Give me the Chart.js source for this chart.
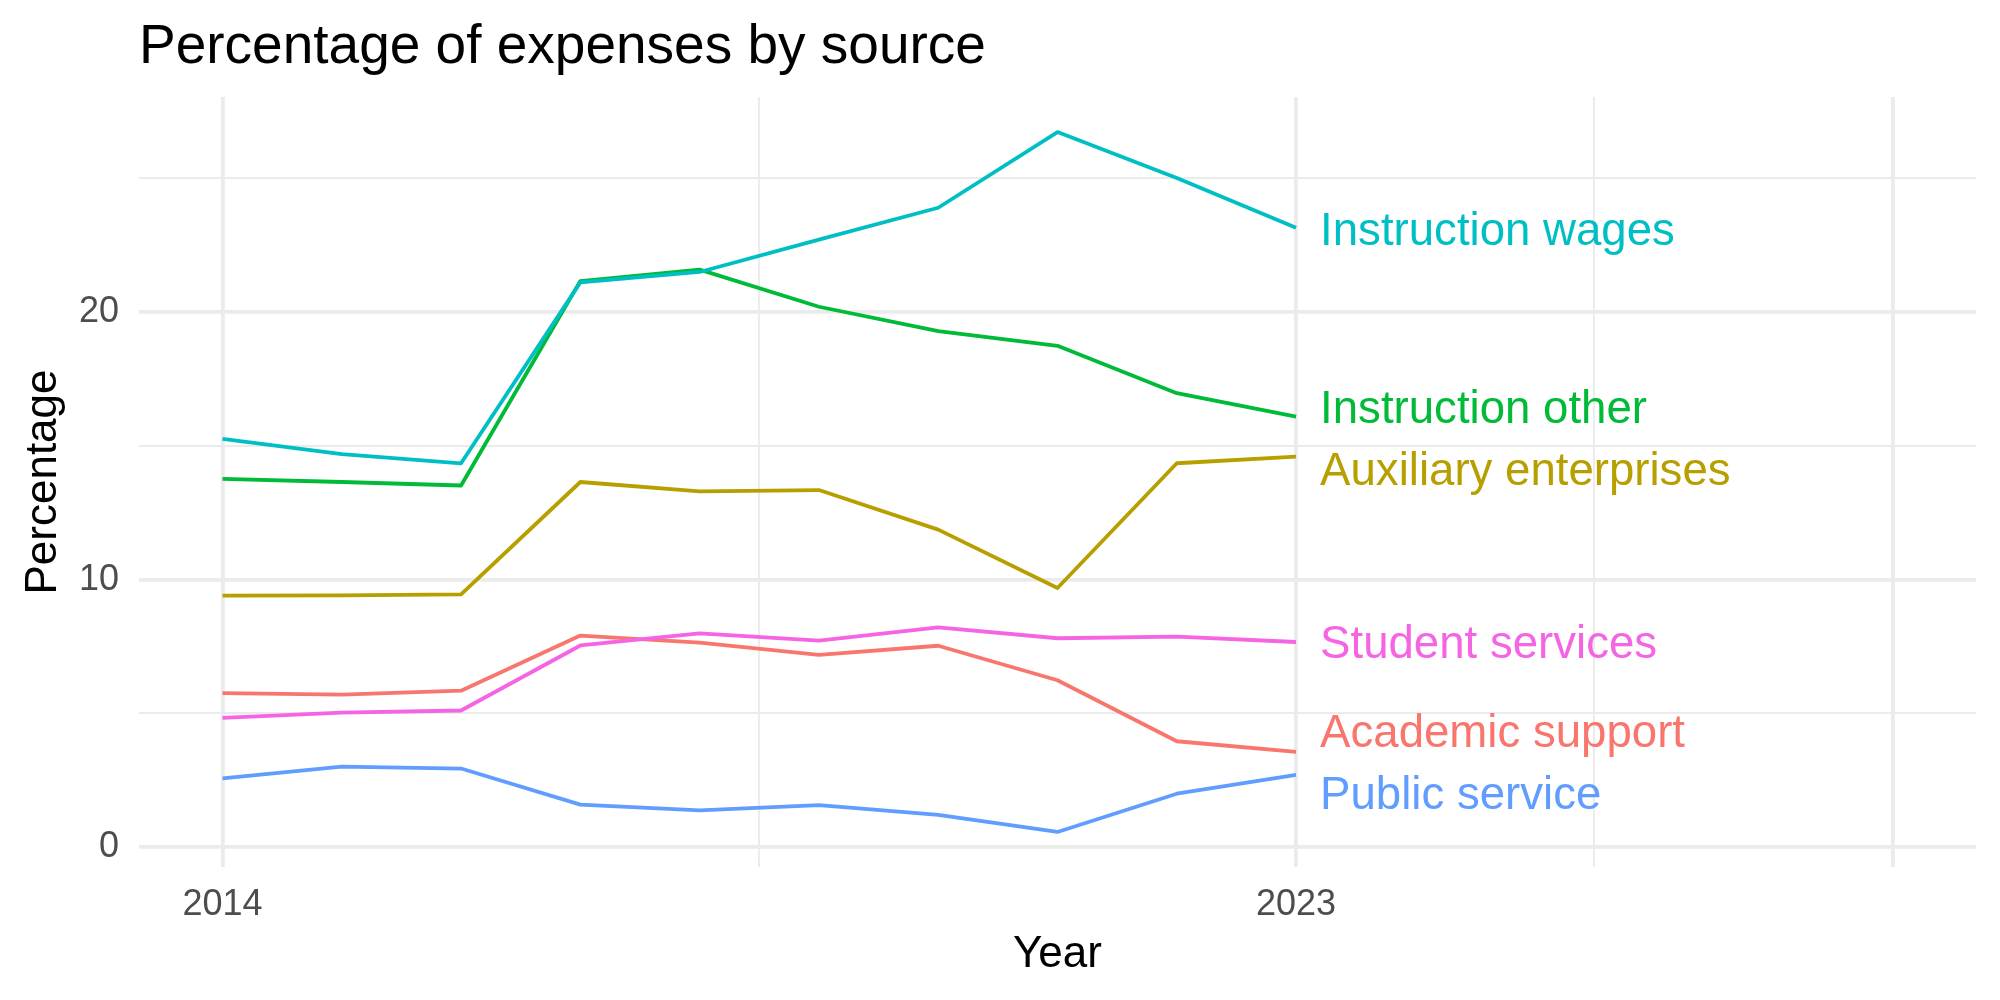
<!DOCTYPE html>
<html>
<head>
<meta charset="utf-8">
<script src="https://cdn.jsdelivr.net/npm/chart.js@4/dist/chart.umd.min.js"></script>
<style>
  body { margin: 0; background: #ffffff; }
  #wrap { width: 2000px; height: 1000px; position: relative; }
</style>
</head>
<body>
<div id="wrap"><canvas id="chart"></canvas></div>
<script>
var years = [2014, 2015, 2016, 2017, 2018, 2019, 2020, 2021, 2022, 2023];

var academicSupport = [5.76, 5.70, 5.85, 7.91, 7.65, 7.19, 7.53, 6.24, 3.96, 3.56];
var auxiliaryEnterprises = [9.40, 9.41, 9.45, 13.65, 13.30, 13.35, 11.87, 9.69, 14.35, 14.60];
var instructionOther = [13.77, 13.65, 13.52, 21.16, 21.59, 20.20, 19.29, 18.74, 16.97, 16.09];
var instructionWages = [15.26, 14.69, 14.35, 21.11, 21.50, 22.71, 23.90, 26.73, 25.01, 23.15];
var publicService = [2.57, 3.01, 2.94, 1.59, 1.38, 1.57, 1.21, 0.57, 2.00, 2.70];
var studentServices = [4.83, 5.03, 5.11, 7.54, 7.99, 7.72, 8.22, 7.81, 7.87, 7.67];

var seriesNames = ['Academic support', 'Auxiliary enterprises', 'Instruction other', 'Instruction wages', 'Public service', 'Student services'];
var seriesValues = [academicSupport, auxiliaryEnterprises, instructionOther, instructionWages, publicService, studentServices];
var seriesColors = ['#F8766D', '#B79F00', '#00BA38', '#00BFC4', '#619CFF', '#F564E3'];
// where the end labels sit after being pushed apart (y value of the text centre)
var labelAt = [4.35, 14.12, 16.46, 23.1, 2.01, 7.66];

var xTicks = [2014, 2018.5, 2023, 2025.5, 2028];
var xTickLabels = ['2014', '', '2023', '', ''];
var xMajor = [true, false, true, false, true];
var yTicks = [0, 5, 10, 15, 20, 25];
var yTickLabels = ['0', '', '10', '', '20', ''];

var FONT = '"Liberation Sans", Arial, sans-serif';
var GRID = '#EBEBEB';

function toPoints (values) {
  var pts = [];
  for (let i = 0; i < years.length; i++) {
    pts.push({ x: years[i], y: values[i] });
  }
  return pts;
}

var datasets = [];
for (let i = 0; i < seriesNames.length; i++) {
  datasets.push({
    label: seriesNames[i],
    data: toPoints(seriesValues[i]),
    borderColor: seriesColors[i],
    backgroundColor: seriesColors[i],
    borderWidth: 3.8,
    borderJoinStyle: 'round',
    pointRadius: 0,
    tension: 0,
    order: seriesNames.length - i
  });
}

var textPlugin = {
  id: 'textPlugin',
  afterDraw: function (chart) {
    const ctx = chart.ctx;
    const area = chart.chartArea;
    const xs = chart.scales.x;
    const ys = chart.scales.y;
    ctx.save();
    ctx.textBaseline = 'alphabetic';

    ctx.fillStyle = '#000000';
    ctx.textAlign = 'left';
    ctx.font = '55px ' + FONT;
    ctx.fillText('Percentage of expenses by source', area.left, 63);

    ctx.font = '44px ' + FONT;
    ctx.textAlign = 'center';
    ctx.fillText('Year', (area.left + area.right) / 2, 967);

    ctx.save();
    ctx.translate(56, (area.top + area.bottom) / 2);
    ctx.rotate(-Math.PI / 2);
    ctx.fillText('Percentage', 0, 0);
    ctx.restore();

    ctx.font = '45.6px ' + FONT;
    ctx.textAlign = 'left';
    const lx = xs.getPixelForValue(years[years.length - 1]) + 24;
    for (let i = 0; i < seriesNames.length; i++) {
      ctx.fillStyle = seriesColors[i];
      ctx.fillText(seriesNames[i], lx, ys.getPixelForValue(labelAt[i]) + 16);
    }
    ctx.restore();
  }
};

new Chart(document.getElementById('chart'), {
  type: 'line',
  data: { datasets: datasets },
  options: {
    responsive: true,
    maintainAspectRatio: false,
    animation: false,
    layout: { padding: { left: 0, right: 24, top: 97, bottom: 0 } },
    plugins: {
      legend: { display: false },
      tooltip: { enabled: false },
      title: { display: false }
    },
    scales: {
      x: {
        type: 'linear',
        min: 2013.3,
        max: 2028.7,
        afterBuildTicks: function (scale) {
          scale.ticks = xTicks.map(function (v) { return { value: v }; });
        },
        afterFit: function (scale) { scale.height = 133; },
        grid: {
          color: GRID,
          lineWidth: function (c) { return xMajor[c.index] ? 3.8 : 1.9; },
          drawTicks: false
        },
        border: { display: false },
        ticks: {
          autoSkip: false,
          maxRotation: 0,
          padding: 16,
          color: '#4D4D4D',
          font: { family: FONT, size: 36 },
          callback: function (v, i) { return xTickLabels[i]; }
        }
      },
      y: {
        type: 'linear',
        min: -0.74,
        max: 28.04,
        afterBuildTicks: function (scale) {
          scale.ticks = yTicks.map(function (v) { return { value: v }; });
        },
        afterFit: function (scale) { scale.width = 139; },
        grid: {
          color: GRID,
          lineWidth: function (c) { return yTickLabels[c.index] === '' ? 1.9 : 3.8; },
          drawTicks: false
        },
        border: { display: false },
        ticks: {
          autoSkip: false,
          padding: 20,
          color: '#4D4D4D',
          font: { family: FONT, size: 36 },
          callback: function (v, i) { return yTickLabels[i]; }
        }
      }
    }
  },
  plugins: [textPlugin]
});
</script>
</body>
</html>
